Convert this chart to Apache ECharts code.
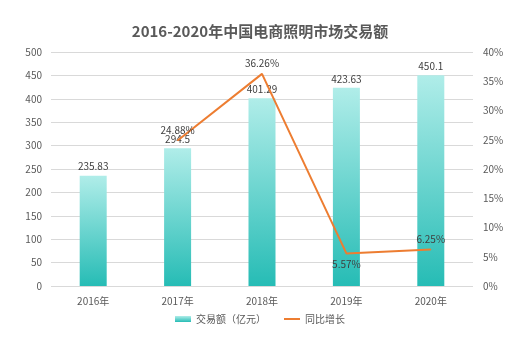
<!DOCTYPE html>
<html>
<head>
<meta charset="utf-8">
<script src="https://cdn.jsdelivr.net/npm/echarts@6/dist/echarts.min.js"></script>
<style>
  html, body { margin: 0; padding: 0; background: #fff; }
  #chart { width: 520px; height: 338px; }
</style>
</head>
<body>
<div id="chart"></div>
<script>
// Years on the category axis
const years = ['2016年', '2017年', '2018年', '2019年', '2020年'];
// Transaction volume (100 million yuan)
const volume = [235.83, 294.5, 401.29, 423.63, 450.1];
// Year-on-year growth (%); no figure for the first year
const growth = [null, 24.88, 36.26, 5.57, 6.25];
// Growth labels that sit under their point instead of above it
const growthLabelBelow = ['2019年'];

const font = '"Microsoft YaHei", "Noto Sans CJK SC", sans-serif';
const chart = echarts.init(document.getElementById('chart'));

const growthData = growth.map((v, i) => ({
  value: v,
  label: { position: growthLabelBelow.includes(years[i]) ? 'bottom' : 'top' }
}));

chart.setOption({
  backgroundColor: '#ffffff',
  title: {
    text: '2016-2020年中国电商照明市场交易额',
    left: 'center',
    top: 19,
    textStyle: { fontFamily: font, fontSize: 15, fontWeight: 'bold', color: '#595959' }
  },
  legend: {
    bottom: 9,
    left: 'center',
    itemWidth: 16,
    itemHeight: 6,
    itemGap: 18,
    textStyle: { fontFamily: font, fontSize: 10, color: '#595959' },
    data: [
      { name: '交易额（亿元）', icon: 'rect' },
      { name: '同比增长', icon: 'path://M0,0H16V2H0Z', itemStyle: { color: '#ED7D31' } }
    ]
  },
  grid: { left: 51, right: 47, top: 52, bottom: 52 },
  xAxis: {
    type: 'category',
    data: years,
    axisLine: { show: false },
    axisTick: { show: false },
    axisLabel: { fontFamily: font, fontSize: 10, color: '#595959', margin: 10 }
  },
  yAxis: [
    {
      type: 'value',
      min: 0, max: 500, interval: 50,
      axisLine: { show: false },
      axisTick: { show: false },
      axisLabel: { fontFamily: font, fontSize: 10, color: '#595959', margin: 9 },
      splitLine: { lineStyle: { color: '#d9d9d9', width: 1 } }
    },
    {
      type: 'value',
      min: 0, max: 40, interval: 5,
      axisLine: { show: false },
      axisTick: { show: false },
      axisLabel: { fontFamily: font, fontSize: 10, color: '#595959', margin: 10, formatter: '{value}%' },
      splitLine: { show: false }
    }
  ],
  series: [
    {
      name: '交易额（亿元）',
      type: 'bar',
      data: volume,
      barWidth: 27,
      itemStyle: {
        color: new echarts.graphic.LinearGradient(0, 0, 0, 1, [
          { offset: 0, color: '#b0ede9' },
          { offset: 1, color: '#26bcb5' }
        ])
      },
      label: {
        show: true,
        position: 'top',
        distance: 4,
        fontFamily: font,
        fontSize: 10,
        color: '#404040'
      }
    },
    {
      name: '同比增长',
      type: 'line',
      yAxisIndex: 1,
      data: growthData,
      symbol: 'circle',
      symbolSize: 1,
      showSymbol: true,
      lineStyle: { color: '#ED7D31', width: 2 },
      itemStyle: { color: '#ED7D31' },
      label: {
        show: true,
        distance: 5,
        fontFamily: font,
        fontSize: 10,
        color: '#404040',
        formatter: p => p.value + '%'
      },
      z: 3
    }
  ]
});
</script>
</body>
</html>
